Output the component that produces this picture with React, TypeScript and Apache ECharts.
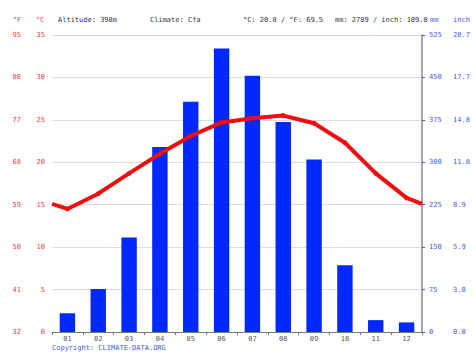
import React, { useEffect, useRef } from "react";
import * as echarts from "echarts";

const months = ["01", "02", "03", "04", "05", "06", "07", "08", "09", "10", "11", "12"];
const precipMm = [33, 76, 167, 327, 407, 501, 453, 371, 305, 118, 21, 17];
const tempC = [14.5, 16.3, 18.7, 21.0, 23.1, 24.7, 25.2, 25.5, 24.6, 22.3, 18.7, 15.8];
const tempEdges = [15.1, 15.1];
const headerTexts = ["Altitude: 398m", "Climate: Cfa", "°C: 20.8 / °F: 69.5", "mm: 2789 / inch: 109.8"];

const RED = "#f03c3c";
const BLUE = "#3c5ae6";
const FONT = "DejaVu Sans Mono";

export default function App() {
  const ref = useRef<HTMLDivElement>(null);
  useEffect(() => {
    if (!ref.current) return;
    const chart = echarts.init(ref.current, null, { renderer: "svg" });
    const lineData: any[] = [
      { value: [0.5, tempEdges[0]], symbol: "none" },
      ...tempC.map((v, i) => [i + 1, v]),
      { value: [12.5, tempEdges[1]], symbol: "none" },
    ];
    const tickLabel = (color: string) => ({
      color,
      fontFamily: FONT,
      fontSize: 7,
    });
    chart.setOption({
      animation: false,
      backgroundColor: "#ffffff",
      grid: { left: 52, right: 52, top: 35, bottom: 23, containLabel: false },
      xAxis: [
        {
          type: "category",
          data: months,
          boundaryGap: true,
          axisLine: { show: true, lineStyle: { color: "#777", width: 1 } },
          axisTick: { show: true, length: 3, lineStyle: { color: "#777" } },
          axisLabel: { ...tickLabel("#555"), margin: 3 },
          splitLine: { show: false },
        },
        { type: "value", min: 0.5, max: 12.5, show: false },
      ],
      yAxis: [
        {
          type: "value",
          min: 0,
          max: 35,
          interval: 5,
          position: "left",
          axisLine: { show: false },
          axisTick: { show: false },
          axisLabel: { ...tickLabel(RED), margin: 7 },
          splitLine: { show: true, lineStyle: { color: "#dddddd", width: 1 } },
        },
        {
          type: "value",
          min: 0,
          max: 35,
          interval: 5,
          position: "left",
          offset: 24,
          axisLine: { show: false },
          axisTick: { show: false },
          axisLabel: { ...tickLabel(RED), margin: 7, formatter: (v: number) => String(Math.round((v * 9) / 5 + 32)) },
          splitLine: { show: false },
        },
        {
          type: "value",
          min: 0,
          max: 525,
          interval: 75,
          position: "right",
          axisLine: { show: true, lineStyle: { color: "#888", width: 1.5 } },
          axisTick: { show: true, length: 3, lineStyle: { color: BLUE } },
          axisLabel: { ...tickLabel(BLUE), margin: 7 },
          splitLine: { show: false },
        },
        {
          type: "value",
          min: 0,
          max: 525,
          interval: 75,
          position: "right",
          offset: 24,
          axisLine: { show: false },
          axisTick: { show: false },
          axisLabel: { ...tickLabel(BLUE), margin: 7, formatter: (v: number) => (v / 25.4).toFixed(1) },
          splitLine: { show: false },
        },
      ],
      series: [
        {
          type: "bar",
          xAxisIndex: 0,
          yAxisIndex: 2,
          data: precipMm,
          barWidth: "50%",
          itemStyle: { color: "#0328fc" },
        },
        {
          type: "line",
          xAxisIndex: 1,
          yAxisIndex: 0,
          data: lineData,
          symbol: "circle",
          symbolSize: 5,
          lineStyle: { color: "#ee1010", width: 4 },
          itemStyle: { color: "#ee1010" },
          z: 5,
        },
      ],
      graphic: [
        { type: "text", x: 17, y: 20, style: { text: "°F", fill: RED, font: `7px ${FONT}`, align: "center", verticalAlign: "middle" } },
        { type: "text", x: 40, y: 20, style: { text: "°C", fill: RED, font: `7px ${FONT}`, align: "center", verticalAlign: "middle" } },
        { type: "text", x: 58, y: 20, style: { text: headerTexts[0], fill: "#333", font: `7px ${FONT}`, verticalAlign: "middle" } },
        { type: "text", x: 150, y: 20, style: { text: headerTexts[1], fill: "#333", font: `7px ${FONT}`, verticalAlign: "middle" } },
        { type: "text", x: 243, y: 20, style: { text: headerTexts[2], fill: "#333", font: `7px ${FONT}`, verticalAlign: "middle" } },
        { type: "text", x: 335, y: 20, style: { text: headerTexts[3], fill: "#333", font: `7px ${FONT}`, verticalAlign: "middle" } },
        { type: "text", x: 430, y: 20, style: { text: "mm", fill: BLUE, font: `7px ${FONT}`, verticalAlign: "middle" } },
        { type: "text", x: 453, y: 20, style: { text: "inch", fill: BLUE, font: `7px ${FONT}`, verticalAlign: "middle" } },
        { type: "text", x: 52, y: 348, style: { text: "Copyright: CLIMATE-DATA.ORG", fill: BLUE, font: `7px ${FONT}`, verticalAlign: "middle" } },
      ],
    });
    return () => chart.dispose();
  }, []);
  return <div ref={ref} style={{ position: "fixed", left: 0, top: 0, width: 474, height: 355 }} />;
}
